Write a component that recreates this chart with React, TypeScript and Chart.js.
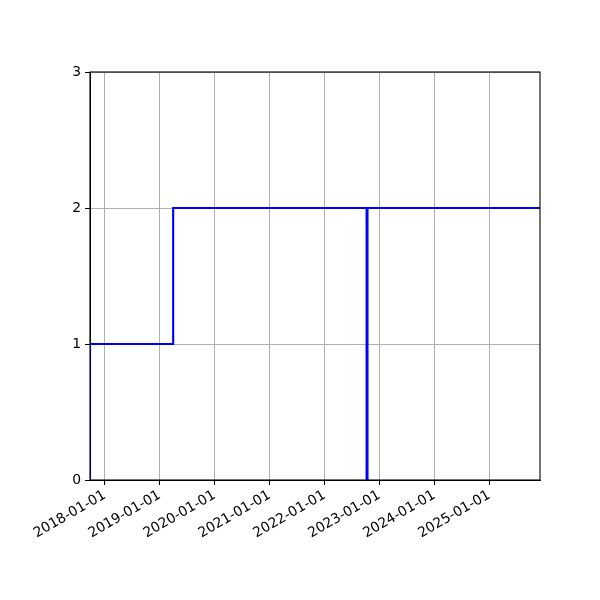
import React, { useEffect, useRef } from "react";
import { Chart, registerables } from "chart.js";

Chart.register(...registerables);

const stepDates = ["2017-09-25", "2017-09-25", "2019-04-01", "2022-10-08", "2022-10-14", "2025-12-04"];
const stepValues = [0, 1, 2, 0, 2, 2];
const tickDates = ["2018-01-01", "2019-01-01", "2020-01-01", "2021-01-01", "2022-01-01", "2023-01-01", "2024-01-01", "2025-01-01"];
const yTicks = [0, 1, 2, 3];
const xMinDate = "2017-09-25";
const xMaxDate = "2025-12-04";

const toMs = (s: string) => Date.parse(s + "T00:00:00Z");
const fmt = (v: number) => new Date(v).toISOString().slice(0, 10);

const framePlugin = {
  id: "frame",
  afterDraw(chart: any) {
    const { ctx, chartArea } = chart;
    ctx.save();
    ctx.strokeStyle = "#000";
    ctx.lineWidth = 1.1;
    ctx.strokeRect(chartArea.left, chartArea.top, chartArea.right - chartArea.left, chartArea.bottom - chartArea.top);
    ctx.restore();
  },
};

export default function App() {
  const ref = useRef<HTMLCanvasElement | null>(null);
  useEffect(() => {
    document.body.style.margin = "0";
    const font = { family: "DejaVu Sans", size: 13.9 };
    const chart = new Chart(ref.current as HTMLCanvasElement, {
      type: "line",
      data: {
        datasets: [
          {
            data: stepDates.map((d, i) => ({ x: toMs(d), y: stepValues[i] })),
            borderColor: "#0000ff",
            borderWidth: 2.1,
            pointRadius: 0,
            stepped: "before",
            fill: false,
          },
        ],
      },
      options: {
        animation: false,
        responsive: false,
        devicePixelRatio: 1,
        layout: { padding: { left: 0, right: 60, top: 72, bottom: 0 } },
        plugins: { legend: { display: false }, tooltip: { enabled: false } },
        scales: {
          x: {
            type: "linear",
            min: toMs(xMinDate),
            max: toMs(xMaxDate),
            afterBuildTicks: (scale: any) => {
              scale.ticks = tickDates.map((d) => ({ value: toMs(d) }));
            },
            afterFit: (scale: any) => {
              scale.height = 120;
            },
            ticks: {
              autoSkip: false,
              maxRotation: 30,
              minRotation: 30,
              color: "#000",
              font,
              padding: 2,
              callback: (v: any) => fmt(Number(v)),
            },
            grid: { color: "#b0b0b0", lineWidth: 1, tickColor: "#000", tickLength: 5, drawTicks: true },
            border: { color: "#000", width: 1 },
          },
          y: {
            type: "linear",
            min: 0,
            max: 3,
            afterBuildTicks: (scale: any) => {
              scale.ticks = yTicks.map((v) => ({ value: v }));
            },
            afterFit: (scale: any) => {
              scale.width = 90;
            },
            ticks: { color: "#000", font, padding: 4, callback: (v: any) => String(v) },
            grid: { color: "#b0b0b0", lineWidth: 1, tickColor: "#000", tickLength: 5, drawTicks: true },
            border: { color: "#000", width: 1 },
          },
        },
      },
      plugins: [framePlugin],
    });
    return () => chart.destroy();
  }, []);
  return (
    <div style={{ position: "absolute", left: 0, top: 0, width: 600, height: 600, background: "#fff" }}>
      <canvas ref={ref} width={600} height={600} style={{ width: 600, height: 600 }} />
    </div>
  );
}
